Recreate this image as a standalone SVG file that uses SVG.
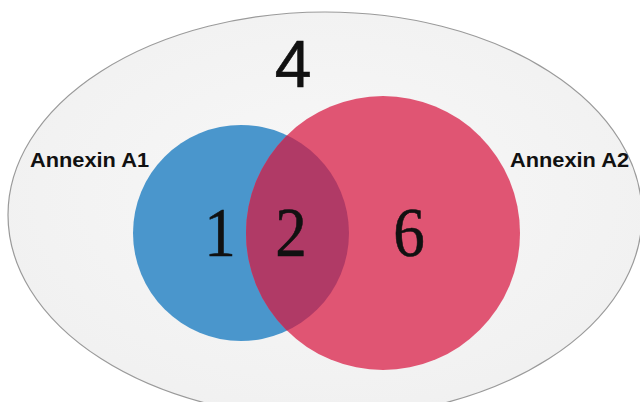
<svg xmlns="http://www.w3.org/2000/svg" width="640" height="402" viewBox="0 0 640 402">
  <defs>
    <radialGradient id="bgFill" cx="0.5" cy="0.45" r="0.6">
      <stop offset="0" stop-color="#f8f8f8"/>
      <stop offset="1" stop-color="#f0f0f0"/>
    </radialGradient>
  </defs>
  <style>
    .set-label { font-family: "Liberation Sans", Arial, sans-serif; font-weight: bold; font-size: 21px; fill: #111; }
    .count { font-family: "Liberation Serif", "Times New Roman", serif; font-size: 70px; fill: #111; text-anchor: middle; stroke: #111; stroke-width: 0.6; }
    .outside { font-family: "Liberation Sans", Arial, sans-serif; font-size: 66px; fill: #111; text-anchor: middle; stroke: #111; stroke-width: 0.6; }
  </style>
  <rect width="640" height="402" fill="#ffffff"/>
  <g id="universe">
    <ellipse cx="325" cy="215" rx="317" ry="203" fill="url(#bgFill)" stroke="#9a9a9a" stroke-width="1.2"/>
    <text class="outside" x="293" y="87">4</text>
  </g>
  <g id="set-a1">
    <circle cx="241" cy="233" r="108" fill="#4a96cc"/>
    <text class="set-label" x="30" y="167" textLength="119" lengthAdjust="spacingAndGlyphs">Annexin A1</text>
  </g>
  <g id="set-a2">
    <circle cx="383" cy="233" r="137" fill="#e05573"/>
    <text class="set-label" x="510" y="167" textLength="119" lengthAdjust="spacingAndGlyphs">Annexin A2</text>
  </g>
  <g id="overlap">
    <clipPath id="clipA1"><circle cx="241" cy="233" r="108"/></clipPath>
    <circle cx="383" cy="233" r="137" fill="#b03a66" clip-path="url(#clipA1)"/>
  </g>
  <g id="counts">
    <text class="count" x="220" y="256" transform="translate(220 0) scale(0.9 1) translate(-220 0)">1</text>
    <text class="count" x="291" y="256" transform="translate(291 0) scale(0.9 1) translate(-291 0)">2</text>
    <text class="count" x="409" y="256" transform="translate(409 0) scale(0.9 1) translate(-409 0)">6</text>
  </g>
</svg>
